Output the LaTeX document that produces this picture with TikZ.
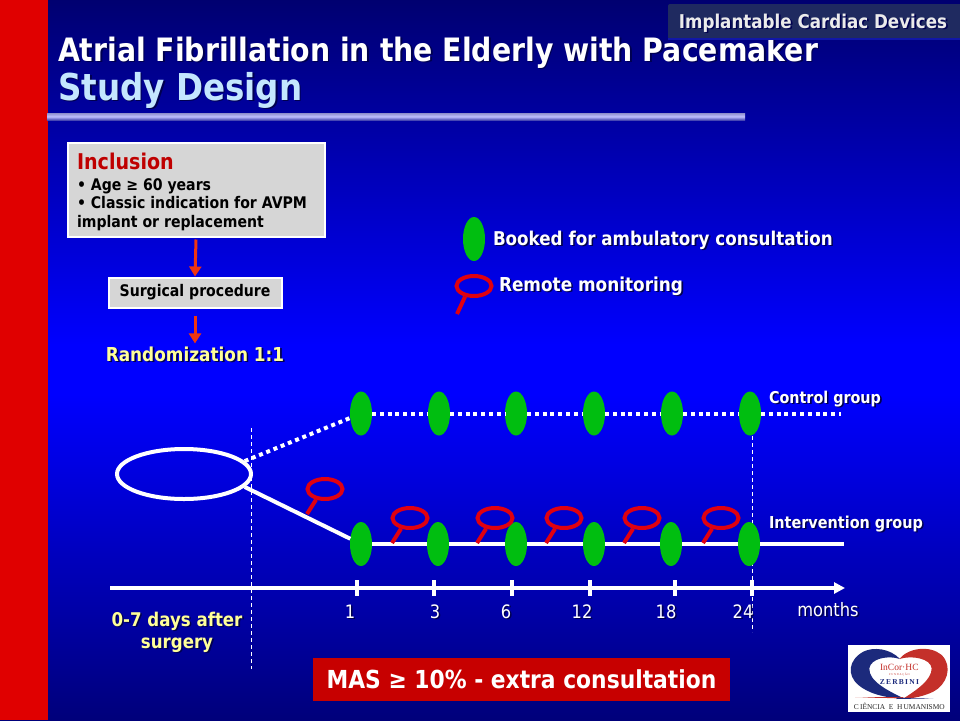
\documentclass[tikz,border=0pt]{standalone}
\usepackage{fontspec}
\setmainfont{DejaVu Sans}[FakeStretch=0.88]
\newfontfamily\logoserif{Liberation Serif}
\usetikzlibrary{shapes.geometric,arrows.meta}
\definecolor{barred}{HTML}{E00000}
\definecolor{boxgray}{HTML}{D6D6D6}
\definecolor{arrowred}{HTML}{F03510}
\definecolor{softyellow}{HTML}{FFFF99}
\definecolor{paleblue}{HTML}{C4E6FF}
\definecolor{visitgreen}{HTML}{00BE10}
\definecolor{loopred}{HTML}{E00010}
\definecolor{textshadow}{HTML}{000050}
\definecolor{tabfill}{HTML}{1F2A60}
\definecolor{logoblue}{HTML}{1C2A7C}
\definecolor{logored}{HTML}{C4302A}
\newcommand{\shtxt}[1]{\leavevmode\rlap{\kern1.6pt\raisebox{-1.6pt}{\color{textshadow}#1}}#1}
\newcommand{\fs}[1]{\fontsize{#1}{#1}\selectfont\bfseries}
\tikzset{
  lbl/.style={inner sep=0pt,outer sep=0pt,anchor=base west},
  lblc/.style={inner sep=0pt,outer sep=0pt,anchor=base},
  visit/.style={ellipse,fill=visitgreen,minimum width=22pt,minimum height=44pt,inner sep=0pt,outer sep=0pt},
  loopring/.style={ellipse,draw=loopred,line width=4pt,minimum width=35pt,minimum height=20pt,inner sep=0pt,outer sep=2pt},
  loophandle/.style={draw=loopred,line width=4pt},
  flowarrow/.style={draw=arrowred,line width=3pt,-{Triangle[length=10pt,width=12pt]}},
  graybox/.style={draw=white,line width=2pt,fill=boxgray,inner sep=0pt,outer sep=0pt},
  solidtrack/.style={draw=white,line width=4pt},
  dottrack/.style={draw=white,line width=4pt,dash pattern=on 4pt off 3.8pt},
  guide/.style={draw=white,line width=1pt,dash pattern=on 4pt off 3pt},
  tickmark/.style={draw=white,line width=4pt},
  monthlbl/.style={lblc,text=white,font=\fontsize{18.5}{18.5}\selectfont},
}
\begin{document}
\begin{tikzpicture}[x=1pt,y=-1pt]
\useasboundingbox (0,0) rectangle (960,720);
% background
\shade[top color=black!0!blue!44!black,bottom color=blue] (0,0) rectangle (960,345);
\fill[blue] (0,344) rectangle (960,395);
\shade[top color=blue,bottom color=blue!48!black] (0,394) rectangle (960,720);
\fill[barred] (0,0) rectangle (48,720);
% title
\shade[top color=blue!30!white!80!black,bottom color=blue!60!white!70!black,middle color=blue!25!white] (47,113) rectangle (745,120);
\node[lbl,text=white] (title) at (58,61) {\fs{32.2}\shtxt{Atrial Fibrillation in the Elderly with Pacemaker}};
\node[lbl,text=paleblue] (sub) at (58,100) {\fs{37}\shtxt{Study Design}};
% tab
\fill[tabfill,rounded corners=2pt] (668,4) rectangle (970,39);
\fill[blue!45!tabfill] (668,38) rectangle (960,40);
\node[lblc,text=white!92!black] (tab) at (813,28) {\fs{19}\shtxt{Implantable Cardiac Devices}};
% inclusion box
\node[graybox,minimum width=257pt,minimum height=94pt] (incl) at (196,189.5) {};
\node[lbl,text=red!75!black] at (77,169) {\fs{21.7}Inclusion};
\node[lbl,text=black] at (77,190) {\fs{16}• Age ≥ 60 years};
\node[lbl,text=black] at (77,208.5) {\fs{16}• Classic indication for AVPM};
\node[lbl,text=black] at (77,227) {\fs{16}implant or replacement};
\node[graybox,minimum width=173pt,minimum height=30pt] (surg) at (195,292.5) {\fs{16}\textcolor{black}{Surgical procedure}};
\node[lblc,text=softyellow] (rnd) at (195,361) {\fs{19.2}\shtxt{Randomization 1:1}};
\draw[flowarrow] ([yshift=-3pt]incl.south) -- ([yshift=1pt]surg.north);
\draw[flowarrow] ([yshift=-8pt]surg.south) -- ([yshift=3pt]rnd.north);
% legend
\node[visit] (legv) at (474,239) {};
\node[lbl,text=white] at (493,245) {\fs{19}\shtxt{Booked for ambulatory consultation}};
\node[loopring] (legl) at (474,286) {};
\coordinate (leglh) at (457,314);
\draw[loophandle] (legl.-130) -- (leglh);
\node[lbl,text=white] at (499,291) {\fs{19.2}\shtxt{Remote monitoring}};
% guides
\coordinate (ga) at (251,428); \coordinate (gb) at (251,669);
\coordinate (gc) at (752,415); \coordinate (gd) at (752,632);
\draw[guide] (ga) -- (gb);
\draw[guide] (gc) -- (gd);
% randomisation ellipse
\node[ellipse,draw=white,line width=4pt,minimum width=134pt,minimum height=50pt,inner sep=0pt] (start) at (184,474) {};
% visits
\foreach \n/\x in {1/361,2/439,3/516,4/594,5/672,6/750}{\node[visit] (c\n) at (\x,413.5) {};}
\foreach \n/\x in {1/361,2/438,3/516,4/594,5/671,6/749}{\node[visit] (i\n) at (\x,544) {};}
\coordinate (cend) at (841,413.5);
\coordinate (iend) at (844,544);
\draw[dottrack] (start.12) -- (c1);
\draw[dottrack] (c1) -- (c2);
\draw[dottrack] (c2) -- (c3);
\draw[dottrack] (c3) -- (c4);
\draw[dottrack] (c4) -- (c5);
\draw[dottrack] (c5) -- (c6);
\draw[dottrack] (c6) -- (cend);
\draw[solidtrack] (start.-12) -- (i1);
\draw[solidtrack] (i1) -- (i2);
\draw[solidtrack] (i2) -- (i3);
\draw[solidtrack] (i3) -- (i4);
\draw[solidtrack] (i4) -- (i5);
\draw[solidtrack] (i5) -- (i6);
\draw[solidtrack] (i6) -- (iend);
\foreach \n/\x/\y in {a/325/489,b/410/518,c/495/518,d/564/518,e/642/518,f/721/518}{
  \node[loopring] (r\n) at (\x,\y) {};
  \coordinate (h\n) at (\x-18,\y+25);
  \draw[loophandle] (r\n.-130) -- (h\n);
}
\node[lbl,text=white] at (769,403) {\fs{16.3}\shtxt{Control group}};
\node[lbl,text=white] at (769,528) {\fs{16.4}\shtxt{Intervention group}};
% axis
\coordinate (axs) at (110,588); \coordinate (axe) at (845,588);
\draw[draw=white,line width=4pt,-{Triangle[length=11pt,width=11pt]}] (axs) -- (axe);
\foreach \x in {357,434,512,590,675,752}{
  \coordinate (ta\x) at (\x,580); \coordinate (tb\x) at (\x,596);
  \draw[tickmark] (ta\x) -- (tb\x);
}
\foreach \x/\t in {350/1,435/3,506/6,582/12,666/18,743/24}{\node[monthlbl] at (\x,618) {\shtxt{\t}};}
\node[monthlbl] at (828,616) {\shtxt{months}};
\node[lblc,text=softyellow] at (177,626) {\fs{18.9}\shtxt{0-7 days after}};
\node[lblc,text=softyellow] at (177,648) {\fs{18.9}\shtxt{surgery}};
% MAS
\node[fill=red!78!black,minimum width=417pt,minimum height=43pt,inner sep=0pt,text=white] (mas) at (521.5,679.5) {\fs{24.8}MAS ≥ 10\% - extra consultation};
% logo
\fill[white] (848,645) rectangle (950,712);
\begin{scope}[shift={(840,635)},x=0.3333pt,y=-0.3333pt]
  \fill[logoblue] (180,72) .. controls (150,40) and (100,35) .. (70,50)
     .. controls (25,75) and (20,120) .. (55,150)
     .. controls (85,175) and (130,188) .. (195,192)
     .. controls (150,170) and (85,140) .. (88,100)
     .. controls (92,70) and (145,60) .. (180,72) -- cycle;
  \fill[logored] (178,72) .. controls (205,38) and (270,30) .. (305,60)
     .. controls (340,95) and (320,150) .. (280,170)
     .. controls (255,182) and (225,190) .. (188,192)
     .. controls (230,165) and (275,135) .. (275,100)
     .. controls (272,70) and (215,60) .. (178,72) -- cycle;
  \fill[logored] (45,187) -- (190,186) -- (190,190) -- cycle;
  \fill[logoblue] (280,190) -- (170,188) -- (170,192) -- cycle;
  \node[inner sep=0pt,text=logored,font=\logoserif\fontsize{9.5}{9.5}\selectfont] at (178,98) {InCor·HC};
  \node[inner sep=0pt,text=logored,font=\logoserif\fontsize{2.8}{2.8}\selectfont] at (178,118) {F U N D A Ç Ã O};
  \node[inner sep=0pt,text=logoblue,font=\logoserif\bfseries\fontsize{7.5}{7.5}\selectfont] at (178,140) {Z\,E\,R\,B\,I\,N\,I};
  \node[inner sep=0pt,text=black!85,font=\logoserif\fontsize{7.4}{7.4}\selectfont] at (178,215) {C\,IÊNCIA\ \ E\ \ H\,UMANISMO};
\end{scope}
\end{tikzpicture}
\end{document}
